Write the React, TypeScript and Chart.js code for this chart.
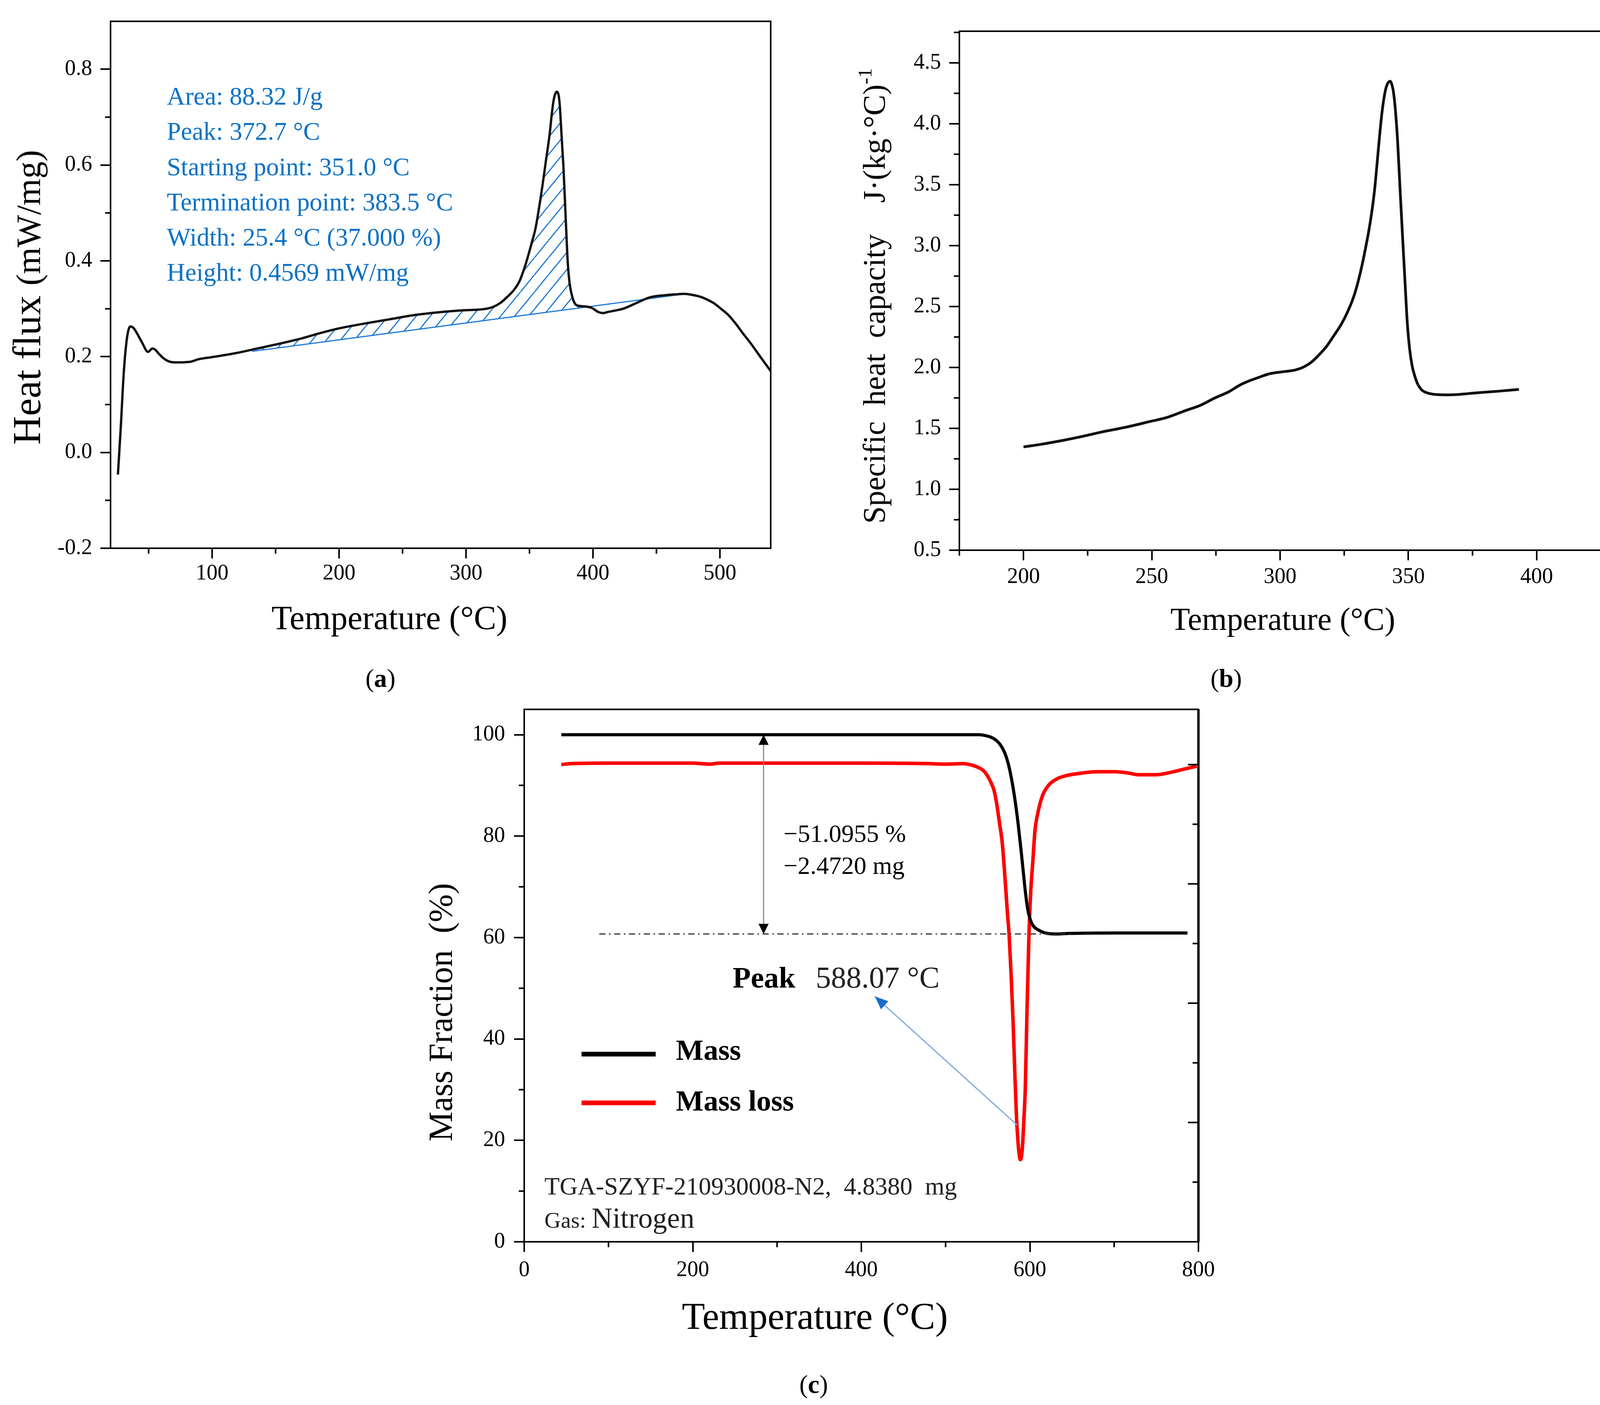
import React, { useEffect, useRef } from 'react';
import { Chart, registerables } from 'chart.js';

Chart.register(...registerables);

const SERIF = '"Liberation Serif", "Times New Roman", Times, serif';
Chart.defaults.font.family = SERIF;

// ---------------- (a) DSC heat flux ----------------
const dscTemp = [25.8, 28, 30.5, 33, 35.6, 38, 41, 44.7, 49.5, 53, 55, 58, 62, 66, 72, 82, 90, 100, 118, 134, 153, 169, 185, 200, 220, 240, 260, 280, 300, 309, 316, 321.5, 327, 332.6, 338, 342.2, 346, 349.1, 352, 354.6, 357.5, 360.2, 363, 366, 367.5, 369, 370.5, 371.8, 373, 374, 374.8, 375.8, 376.8, 378.6, 380.2, 381.5, 383, 385.7, 389, 393.3, 398.9, 404.4, 408, 411.3, 417, 423.7, 433.4, 444.5, 456.9, 465, 472.1, 478, 484.5, 490, 495.6, 500.8, 506.6, 512.7, 517.7, 524.5, 532, 540];
const dscFlux = [-0.046, 0.05, 0.17, 0.24, 0.263, 0.26, 0.248, 0.23, 0.21, 0.217, 0.215, 0.206, 0.196, 0.19, 0.188, 0.189, 0.195, 0.199, 0.207, 0.216, 0.227, 0.237, 0.249, 0.259, 0.269, 0.278, 0.287, 0.293, 0.297, 0.298, 0.3, 0.304, 0.312, 0.325, 0.34, 0.358, 0.385, 0.412, 0.44, 0.466, 0.51, 0.557, 0.61, 0.667, 0.705, 0.735, 0.75, 0.753, 0.745, 0.72, 0.683, 0.638, 0.593, 0.484, 0.394, 0.355, 0.3325, 0.311, 0.306, 0.305, 0.302, 0.293, 0.291, 0.293, 0.296, 0.3, 0.311, 0.3235, 0.3283, 0.33, 0.331, 0.329, 0.325, 0.319, 0.311, 0.3, 0.287, 0.268, 0.25, 0.227, 0.199, 0.17];
const baselineTemp = [131.5, 473];
const baselineFlux = [0.211, 0.331];
const aXTicks = [100, 200, 300, 400, 500];
const aXMinor = [50, 150, 250, 350, 450];
const aYTicks = [-0.2, 0, 0.2, 0.4, 0.6, 0.8];
const aYMinor = [-0.1, 0.1, 0.3, 0.5, 0.7];
const aNotes = [
  'Area: 88.32 J/g',
  'Peak: 372.7 °C',
  'Starting point: 351.0 °C',
  'Termination point: 383.5 °C',
  'Width: 25.4 °C (37.000 %)',
  'Height: 0.4569 mW/mg',
];
const aNoteX = 64.3;
const aNoteY0 = 0.726;
const aNoteStep = 0.0736;

// ---------------- (b) specific heat capacity ----------------
const cpTemp = [200, 207, 215, 222, 230.4, 240, 249.6, 256, 263, 269, 274.6, 280, 284.2, 288, 291.9, 295.8, 301.5, 306, 309.2, 312, 315, 318, 320.8, 324, 326.5, 329, 331.3, 333.5, 335.2, 336.8, 338, 339, 340, 341, 341.9, 342.9, 343.6, 344.2, 345, 345.8, 346.8, 347.7, 348.7, 349.6, 350.5, 351.5, 352.5, 353.5, 355, 356.3, 358.5, 361.2, 365, 368.8, 373, 378.5, 385, 393.1];
const cpVal = [1.348, 1.37, 1.4, 1.43, 1.47, 1.51, 1.558, 1.59, 1.645, 1.69, 1.75, 1.8, 1.854, 1.89, 1.92, 1.948, 1.966, 1.98, 2.004, 2.04, 2.1, 2.17, 2.256, 2.36, 2.465, 2.6, 2.78, 3.0, 3.2, 3.45, 3.72, 3.95, 4.14, 4.27, 4.33, 4.35, 4.32, 4.26, 4.1, 3.86, 3.45, 3.09, 2.7, 2.36, 2.15, 2.01, 1.93, 1.87, 1.82, 1.8, 1.785, 1.777, 1.775, 1.777, 1.785, 1.795, 1.805, 1.82];
const bXTicks = [200, 250, 300, 350, 400];
const bXMinor = [175, 225, 275, 325, 375, 425];
const bYTicks = [0.5, 1.0, 1.5, 2.0, 2.5, 3.0, 3.5, 4.0, 4.5];
const bYMinor = [0.75, 1.25, 1.75, 2.25, 2.75, 3.25, 3.75, 4.25, 4.75];

// ---------------- (c) TGA ----------------
const massTemp = [44, 150, 300, 450, 540, 548, 554, 560, 565, 570, 574, 578, 582, 586, 590, 594, 597, 600, 604, 610, 618, 630, 645, 700, 787];
const massVal = [100, 100, 100, 100, 100, 99.8, 99.5, 98.9, 98.0, 96.5, 94.5, 91.5, 87.5, 82.5, 76.5, 70, 66, 63.8, 62.3, 61.5, 60.9, 60.7, 60.8, 60.9, 60.9];
const lossTemp = [44, 55, 100, 200, 220, 232, 300, 400, 480, 500, 520, 535, 545, 550, 554, 557.5, 561, 564, 567, 569.5, 571.8, 573.5, 575.3, 577.7, 580, 582, 584, 586, 587.5, 588.5, 590, 591.5, 593, 594.5, 596.5, 598.8, 601, 603.5, 606, 610, 615, 622, 631, 645, 660, 680, 700, 715, 730, 750, 765, 780, 798];
const lossVal = [94.1, 94.3, 94.4, 94.4, 94.2, 94.4, 94.4, 94.4, 94.3, 94.2, 94.3, 93.8, 92.9, 91.8, 90.5, 89, 86, 82.5, 79, 74, 68.6, 64.5, 60.7, 52.8, 43.7, 34, 25, 19.5, 17, 16.2, 16.8, 19.5, 24.5, 30, 45, 60, 69, 75, 81, 85, 88, 90, 91.2, 92, 92.4, 92.7, 92.7, 92.5, 92.1, 92.1, 92.5, 93.1, 93.8];
const cXTicks = [0, 200, 400, 600, 800];
const cXMinor = [100, 300, 500, 700];
const cYTicks = [0, 20, 40, 60, 80, 100];
const cYMinor = [10, 30, 50, 70, 90];
const cRightMajor = [20, 40, 60, 80];
const cRightMinor = [10, 30, 50, 70];
const cRightMax = 89.25;
const residueLevel = 60.7;
const residueSpan = [89, 650];
const lossArrowX = 284;
const lossArrowSpan = [100, 60.7];
const deltaLines = ['\u221251.0955 %', '\u22122.4720 mg'];
const deltaX = 307.7;
const deltaY = [78.9, 72.55];
const peakWord = 'Peak';
const peakValue = '588.07 °C';
const peakWordAt = [247.3, 50.1];
const peakValueAt = [345.9, 50.1];
const peakArrowFrom = [585, 23];
const peakArrowTo = [416, 48.4];
const legendLineX = [68, 156];
const legendLineY = [37, 27.4];
const legendTextX = 180;
const legendTextY = [35.85, 25.9];
const sampleText = 'TGA-SZYF-210930008-N2,  4.8380  mg';
const sampleAt = [24, 9.3];
const gasLabel = 'Gas: ';
const gasValue = 'Nitrogen';
const gasAt = [24, 2.8];

// ---------------- helpers ----------------
const pts = (xs: number[], ys: number[]) => xs.map((x, i) => ({ x, y: ys[i] }));
const fnt = (size: number, bold = false) => `${bold ? 'bold ' : ''}${size}px ${SERIF}`;

type Run = { t: string; size: number; bold?: boolean; dy?: number; color?: string };

function drawRuns(ctx: any, x: number, y: number, runs: Run[], align = 'left', rot = 0, color = '#000') {
  ctx.save();
  ctx.translate(x, y);
  if (rot) ctx.rotate(rot);
  ctx.textBaseline = 'alphabetic';
  ctx.textAlign = 'left';
  const widths = runs.map((r) => {
    ctx.font = fnt(r.size, r.bold);
    return ctx.measureText(r.t).width;
  });
  const total = widths.reduce((a, b) => a + b, 0);
  let cx = align === 'center' ? -total / 2 : 0;
  runs.forEach((r, i) => {
    ctx.font = fnt(r.size, r.bold);
    ctx.fillStyle = r.color || color;
    ctx.fillText(r.t, cx, r.dy || 0);
    cx += widths[i];
  });
  ctx.restore();
}

function linAxis(o: any) {
  return {
    type: 'linear',
    position: o.position,
    min: o.min,
    max: o.max,
    afterBuildTicks: (s: any) => {
      s.ticks = o.ticks.map((v: number) => ({ value: v }));
    },
    afterFit: (s: any) => {
      if (o.horizontal) s.height = o.size;
      else s.width = o.size;
    },
    grid: {
      display: true,
      drawOnChartArea: false,
      drawTicks: true,
      tickLength: 26,
      tickWidth: 4,
      tickColor: '#000',
      color: '#000',
      lineWidth: 4,
    },
    border: { display: false },
    ticks: {
      autoSkip: false,
      maxRotation: 0,
      minRotation: 0,
      padding: o.pad,
      color: '#000',
      font: { family: SERIF, size: 56 },
      callback: (v: any) => o.fmt(Number(v)),
    },
  };
}

function frameAndMinor(chart: any, ctx: any, xMinor: number[], yMinor: number[]) {
  const { left, right, top, bottom } = chart.chartArea;
  const xs = chart.scales.x;
  const ys = chart.scales.y;
  ctx.strokeStyle = '#000';
  ctx.lineWidth = 4;
  ctx.beginPath();
  xMinor.forEach((v) => {
    const p = xs.getPixelForValue(v);
    ctx.moveTo(p, bottom);
    ctx.lineTo(p, bottom + 14);
  });
  yMinor.forEach((v) => {
    const p = ys.getPixelForValue(v);
    ctx.moveTo(left, p);
    ctx.lineTo(left - 14, p);
  });
  ctx.stroke();
  ctx.lineWidth = 4;
  ctx.strokeRect(left, top, right - left, bottom - top);
}

function arrowHead(ctx: any, tx: number, ty: number, fx: number, fy: number, len: number, half: number, color: string) {
  const a = Math.atan2(ty - fy, tx - fx);
  const bx = tx - len * Math.cos(a);
  const by = ty - len * Math.sin(a);
  ctx.beginPath();
  ctx.moveTo(tx, ty);
  ctx.lineTo(bx + half * Math.sin(a), by - half * Math.cos(a));
  ctx.lineTo(bx - half * Math.sin(a), by + half * Math.cos(a));
  ctx.closePath();
  ctx.fillStyle = color;
  ctx.fill();
}

function baseOptions(padding: any, scales: any) {
  return {
    responsive: false,
    maintainAspectRatio: false,
    animation: false,
    devicePixelRatio: 1,
    events: [],
    layout: { padding },
    plugins: { legend: { display: false }, tooltip: { enabled: false }, title: { display: false } },
    elements: { point: { radius: 0 } },
    scales,
  };
}

function makeHatch(): any {
  const w = 36;
  const h = 44;
  const c = document.createElement('canvas');
  c.width = w;
  c.height = h;
  const g = c.getContext('2d') as CanvasRenderingContext2D;
  g.strokeStyle = '#1b76d2';
  g.lineWidth = 3;
  g.beginPath();
  [-w, 0, w].forEach((o) => {
    g.moveTo(o, h);
    g.lineTo(o + w, 0);
  });
  g.stroke();
  return g.createPattern(c, 'repeat');
}

// ---------------- chart builders ----------------
function buildA() {
  const curve = pts(dscTemp, dscFlux);
  const lo = baselineTemp[0];
  const hi = baselineTemp[baselineTemp.length - 1];
  const hatchPts = curve.filter((p) => p.x >= lo && p.x <= hi);
  const plugin = {
    id: 'panelA',
    afterDraw(chart: any) {
      const ctx = chart.ctx;
      ctx.save();
      frameAndMinor(chart, ctx, aXMinor, aYMinor);
      const xs = chart.scales.x;
      const ys = chart.scales.y;
      aNotes.forEach((t, i) => {
        drawRuns(ctx, xs.getPixelForValue(aNoteX), ys.getPixelForValue(aNoteY0 - i * aNoteStep), [{ t, size: 65 }], 'left', 0, '#0a71c6');
      });
      drawRuns(ctx, 997, 1611, [{ t: 'Temperature (°C)', size: 86 }], 'center');
      drawRuns(ctx, 103, 1139, [{ t: 'Heat flux ', size: 102 }, { t: '(mW/mg)', size: 88 }], 'left', -Math.PI / 2);
      drawRuns(ctx, 974, 1759, [{ t: '(', size: 66 }, { t: 'a', size: 66, bold: true }, { t: ')', size: 66 }], 'center');
      ctx.restore();
    },
  };
  return {
    type: 'line',
    data: {
      datasets: [
        { label: 'Heat flux', data: curve, borderColor: '#111', borderWidth: 6, fill: false, cubicInterpolationMode: 'monotone', pointRadius: 0 },
        {
          label: 'Peak area',
          data: hatchPts,
          borderColor: 'rgba(0,0,0,0)',
          borderWidth: 0,
          cubicInterpolationMode: 'monotone',
          pointRadius: 0,
          fill: { target: 2, above: makeHatch(), below: 'rgba(0,0,0,0)' },
        },
        { label: 'Baseline', data: pts(baselineTemp, baselineFlux), borderColor: '#1f7ad6', borderWidth: 3, fill: false, pointRadius: 0 },
      ],
    },
    options: baseOptions(
      { left: 0, top: 38, right: 87, bottom: 0 },
      {
        x: linAxis({ position: 'bottom', min: 20, max: 540, ticks: aXTicks, fmt: (v: number) => String(v), size: 416, pad: 6, horizontal: true }),
        y: linAxis({ position: 'left', min: -0.2, max: 0.9, ticks: aYTicks, fmt: (v: number) => v.toFixed(1), size: 283, pad: 21, horizontal: false }),
      }
    ),
    plugins: [plugin],
  };
}

function buildB() {
  const plugin = {
    id: 'panelB',
    afterDraw(chart: any) {
      const ctx = chart.ctx;
      ctx.save();
      frameAndMinor(chart, ctx, bXMinor, bYMinor);
      drawRuns(ctx, 1164, 1613, [{ t: 'Temperature (°C)', size: 82 }], 'center');
      drawRuns(ctx, 145, 1341, [{ t: 'Specific  heat  capacity    J·(kg·°C)', size: 80 }, { t: '-1', size: 50, dy: -34 }], 'left', -Math.PI / 2);
      drawRuns(ctx, 1019, 1759, [{ t: '(', size: 66 }, { t: 'b', size: 66, bold: true }, { t: ')', size: 66 }], 'center');
      ctx.restore();
    },
  };
  return {
    type: 'line',
    data: {
      datasets: [
        { label: 'Specific heat capacity', data: pts(cpTemp, cpVal), borderColor: '#111', borderWidth: 7, fill: false, cubicInterpolationMode: 'monotone', pointRadius: 0 },
      ],
    },
    options: baseOptions(
      { left: 0, top: 80, right: 25, bottom: 0 },
      {
        x: linAxis({ position: 'bottom', min: 175, max: 425, ticks: bXTicks, fmt: (v: number) => String(v), size: 411, pad: 10, horizontal: true }),
        y: linAxis({ position: 'left', min: 0.5, max: 4.76, ticks: bYTicks, fmt: (v: number) => v.toFixed(1), size: 336, pad: 21, horizontal: false }),
      }
    ),
    plugins: [plugin],
  };
}

function buildC() {
  const plugin = {
    id: 'panelC',
    afterDraw(chart: any) {
      const ctx = chart.ctx;
      const xs = chart.scales.x;
      const ys = chart.scales.y;
      const y2 = chart.scales.y2;
      const X = (v: number) => xs.getPixelForValue(v);
      const Y = (v: number) => ys.getPixelForValue(v);
      ctx.save();
      frameAndMinor(chart, ctx, cXMinor, cYMinor);
      // right axis, inward ticks
      const r = chart.chartArea.right;
      ctx.strokeStyle = '#000';
      ctx.lineWidth = 4;
      ctx.beginPath();
      cRightMajor.forEach((v) => {
        const p = y2.getPixelForValue(v);
        ctx.moveTo(r, p);
        ctx.lineTo(r - 27, p);
      });
      cRightMinor.forEach((v) => {
        const p = y2.getPixelForValue(v);
        ctx.moveTo(r, p);
        ctx.lineTo(r - 15, p);
      });
      ctx.stroke();
      ctx.lineWidth = 6;
      ctx.beginPath();
      ctx.moveTo(r, chart.chartArea.top);
      ctx.lineTo(r, chart.chartArea.bottom);
      ctx.stroke();
      // residue dash-dot line
      ctx.save();
      ctx.setLineDash([16, 9, 4, 9]);
      ctx.strokeStyle = '#333';
      ctx.lineWidth = 3;
      ctx.beginPath();
      ctx.moveTo(X(residueSpan[0]), Y(residueLevel));
      ctx.lineTo(X(residueSpan[1]), Y(residueLevel));
      ctx.stroke();
      ctx.restore();
      // double arrow for mass loss
      const ax = X(lossArrowX);
      const aTop = Y(lossArrowSpan[0]);
      const aBot = Y(lossArrowSpan[1]);
      ctx.strokeStyle = '#8c8c8c';
      ctx.lineWidth = 3;
      ctx.beginPath();
      ctx.moveTo(ax, aTop + 10);
      ctx.lineTo(ax, aBot - 10);
      ctx.stroke();
      arrowHead(ctx, ax, aTop, ax, aBot, 26, 13, '#000');
      arrowHead(ctx, ax, aBot, ax, aTop, 26, 13, '#000');
      // texts
      deltaLines.forEach((t, i) => drawRuns(ctx, X(deltaX), Y(deltaY[i]), [{ t, size: 64 }]));
      drawRuns(ctx, X(peakWordAt[0]), Y(peakWordAt[1]), [{ t: peakWord, size: 76, bold: true }]);
      drawRuns(ctx, X(peakValueAt[0]), Y(peakValueAt[1]), [{ t: peakValue, size: 78 }], 'left', 0, '#222');
      // peak arrow
      const fx = X(peakArrowFrom[0]);
      const fy = Y(peakArrowFrom[1]);
      const tx = X(peakArrowTo[0]);
      const ty = Y(peakArrowTo[1]);
      ctx.strokeStyle = '#7ba7dd';
      ctx.lineWidth = 3;
      ctx.beginPath();
      ctx.moveTo(fx, fy);
      ctx.lineTo(tx, ty);
      ctx.stroke();
      arrowHead(ctx, tx, ty, fx, fy, 34, 14, '#1a6dcc');
      // legend from datasets
      chart.data.datasets.forEach((ds: any, i: number) => {
        ctx.strokeStyle = ds.borderColor;
        ctx.lineWidth = 12;
        ctx.beginPath();
        ctx.moveTo(X(legendLineX[0]), Y(legendLineY[i]));
        ctx.lineTo(X(legendLineX[1]), Y(legendLineY[i]));
        ctx.stroke();
        drawRuns(ctx, X(legendTextX), Y(legendTextY[i]), [{ t: ds.label, size: 75, bold: true }]);
      });
      drawRuns(ctx, X(sampleAt[0]), Y(sampleAt[1]), [{ t: sampleText, size: 64 }], 'left', 0, '#222');
      drawRuns(ctx, X(gasAt[0]), Y(gasAt[1]), [{ t: gasLabel, size: 58 }, { t: gasValue, size: 74 }], 'left', 0, '#222');
      // axis titles and panel label
      drawRuns(ctx, 1086, 1643, [{ t: 'Temperature (°C)', size: 97 }], 'center');
      drawRuns(ctx, 157, 1163, [{ t: 'Mass Fraction  (%)', size: 86 }], 'left', -Math.PI / 2);
      drawRuns(ctx, 1083, 1807, [{ t: '(', size: 66 }, { t: 'c', size: 66, bold: true }, { t: ')', size: 66 }], 'center');
      ctx.restore();
    },
  };
  return {
    type: 'line',
    data: {
      datasets: [
        { label: 'Mass', data: pts(massTemp, massVal), borderColor: '#000', borderWidth: 8, fill: false, cubicInterpolationMode: 'monotone', pointRadius: 0 },
        { label: 'Mass loss', data: pts(lossTemp, lossVal), borderColor: '#ff0000', borderWidth: 9, fill: false, cubicInterpolationMode: 'monotone', pointRadius: 0 },
      ],
    },
    options: baseOptions(
      { left: 0, top: 29, right: 132, bottom: 0 },
      {
        x: linAxis({ position: 'bottom', min: 0, max: 800, ticks: cXTicks, fmt: (v: number) => String(v), size: 418, pad: 14, horizontal: true }),
        y: linAxis({ position: 'left', min: 0, max: 105, ticks: cYTicks, fmt: (v: number) => String(v), size: 342, pad: 23, horizontal: false }),
        y2: { type: 'linear', position: 'right', display: false, min: 0, max: cRightMax },
      }
    ),
    plugins: [plugin],
  };
}

function Panel(props: { left: number; top: number; width: number; height: number; build: () => any }) {
  const ref = useRef<HTMLCanvasElement>(null);
  useEffect(() => {
    const c = ref.current as HTMLCanvasElement;
    const chart = new Chart(c, props.build());
    return () => chart.destroy();
  }, []);
  return (
    <canvas
      ref={ref}
      width={props.width}
      height={props.height}
      style={{ position: 'absolute', left: props.left, top: props.top, width: props.width, height: props.height }}
    />
  );
}

export default function App() {
  useEffect(() => {
    document.body.style.margin = '0';
  }, []);
  return (
    <div style={{ position: 'relative', width: 4123, height: 3598, background: '#fff', overflow: 'hidden' }}>
      <Panel left={0} top={0} width={2060} height={1820} build={buildA} />
      <Panel left={2120} top={0} width={2003} height={1820} build={buildB} />
      <Panel left={1000} top={1760} width={2200} height={1838} build={buildC} />
    </div>
  );
}
